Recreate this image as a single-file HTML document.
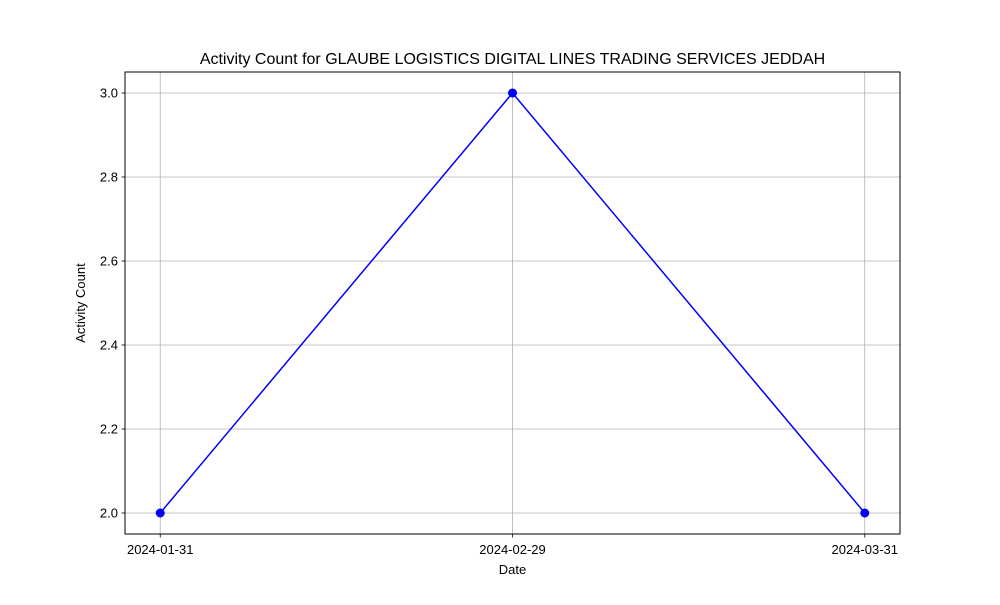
<!DOCTYPE html>
<html><head><meta charset="utf-8"><style>
body{margin:0;background:#fff;}
svg text{font-family:"Liberation Sans","DejaVu Sans",sans-serif;fill:#000;}
</style></head><body>
<svg id="chart" width="1000" height="600" xmlns="http://www.w3.org/2000/svg">
<rect width="1000" height="600" fill="#fff"/>
<text x="512.5" y="64" font-size="16" text-anchor="middle">Activity Count for GLAUBE LOGISTICS DIGITAL LINES TRADING SERVICES JEDDAH</text>
<g id="grid"></g>
<g id="ticks"></g>
<g id="series"></g>
<rect x="125" y="72" width="775" height="462" fill="none" stroke="#000" stroke-width="1"/>
<text x="512.5" y="574" font-size="13" text-anchor="middle">Date</text>
<text x="0" y="0" font-size="13" text-anchor="middle" transform="translate(85,303) rotate(-90)">Activity Count</text>
</svg>
<script>
const categories = ["2024-01-31","2024-02-29","2024-03-31"];
const values = [2, 3, 2];
const yTicks = [2.0, 2.2, 2.4, 2.6, 2.8, 3.0];
const yTickLabels = ["2.0","2.2","2.4","2.6","2.8","3.0"];

const L=125,R=900,T=72,B=534;
const xMin=-0.1,xMax=categories.length-1+0.1;
const yLo=Math.min(...values),yHi=Math.max(...values);
const yPad=(yHi-yLo)*0.05||0.05;
const yMin=yLo-yPad,yMax=yHi+yPad;
const xs=i=>L+(i-xMin)/(xMax-xMin)*(R-L);
const ys=v=>B-(v-yMin)/(yMax-yMin)*(B-T);
const NS="http://www.w3.org/2000/svg";
function mk(tag,attrs,parent){const e=document.createElementNS(NS,tag);for(const k in attrs)e.setAttribute(k,attrs[k]);parent.appendChild(e);return e;}
const grid=document.getElementById('grid'),ticks=document.getElementById('ticks'),series=document.getElementById('series');

categories.forEach((c,i)=>{
  const x=xs(i);
  const g=mk('line',{x1:x,x2:x,y1:T,y2:B,stroke:'#b0b0b0','stroke-width':0.8},grid);
  
  
  const t=mk('line',{x1:x,x2:x,y1:B,y2:B+3.5,stroke:'#000','stroke-width':0.8},ticks);
  
  
  const l=mk('text',{x:x,y:B+20,'font-size':13,'text-anchor':'middle'},ticks);
  l.textContent=c;
  
  
});
yTicks.forEach((v,i)=>{
  const y=ys(v);
  const g=mk('line',{x1:L,x2:R,y1:y,y2:y,stroke:'#b0b0b0','stroke-width':0.8},grid);
  
  
  const t=mk('line',{x1:L-3.5,x2:L,y1:y,y2:y,stroke:'#000','stroke-width':0.8},ticks);
  
  
  const l=mk('text',{x:L-7,y:y+4.5,'font-size':13,'text-anchor':'end'},ticks);
  l.textContent=yTickLabels[i];
  
  
});
const pts=values.map((v,i)=>xs(i)+','+ys(v)).join(' ');
const line=mk('polyline',{points:pts,fill:'none',stroke:'#0000ff','stroke-width':1.5},series);


values.forEach((v,i)=>{
  const c=mk('circle',{cx:xs(i),cy:ys(v),r:4.5,fill:'#0000ff'},series);
  
  
});
</script>
</body></html>
